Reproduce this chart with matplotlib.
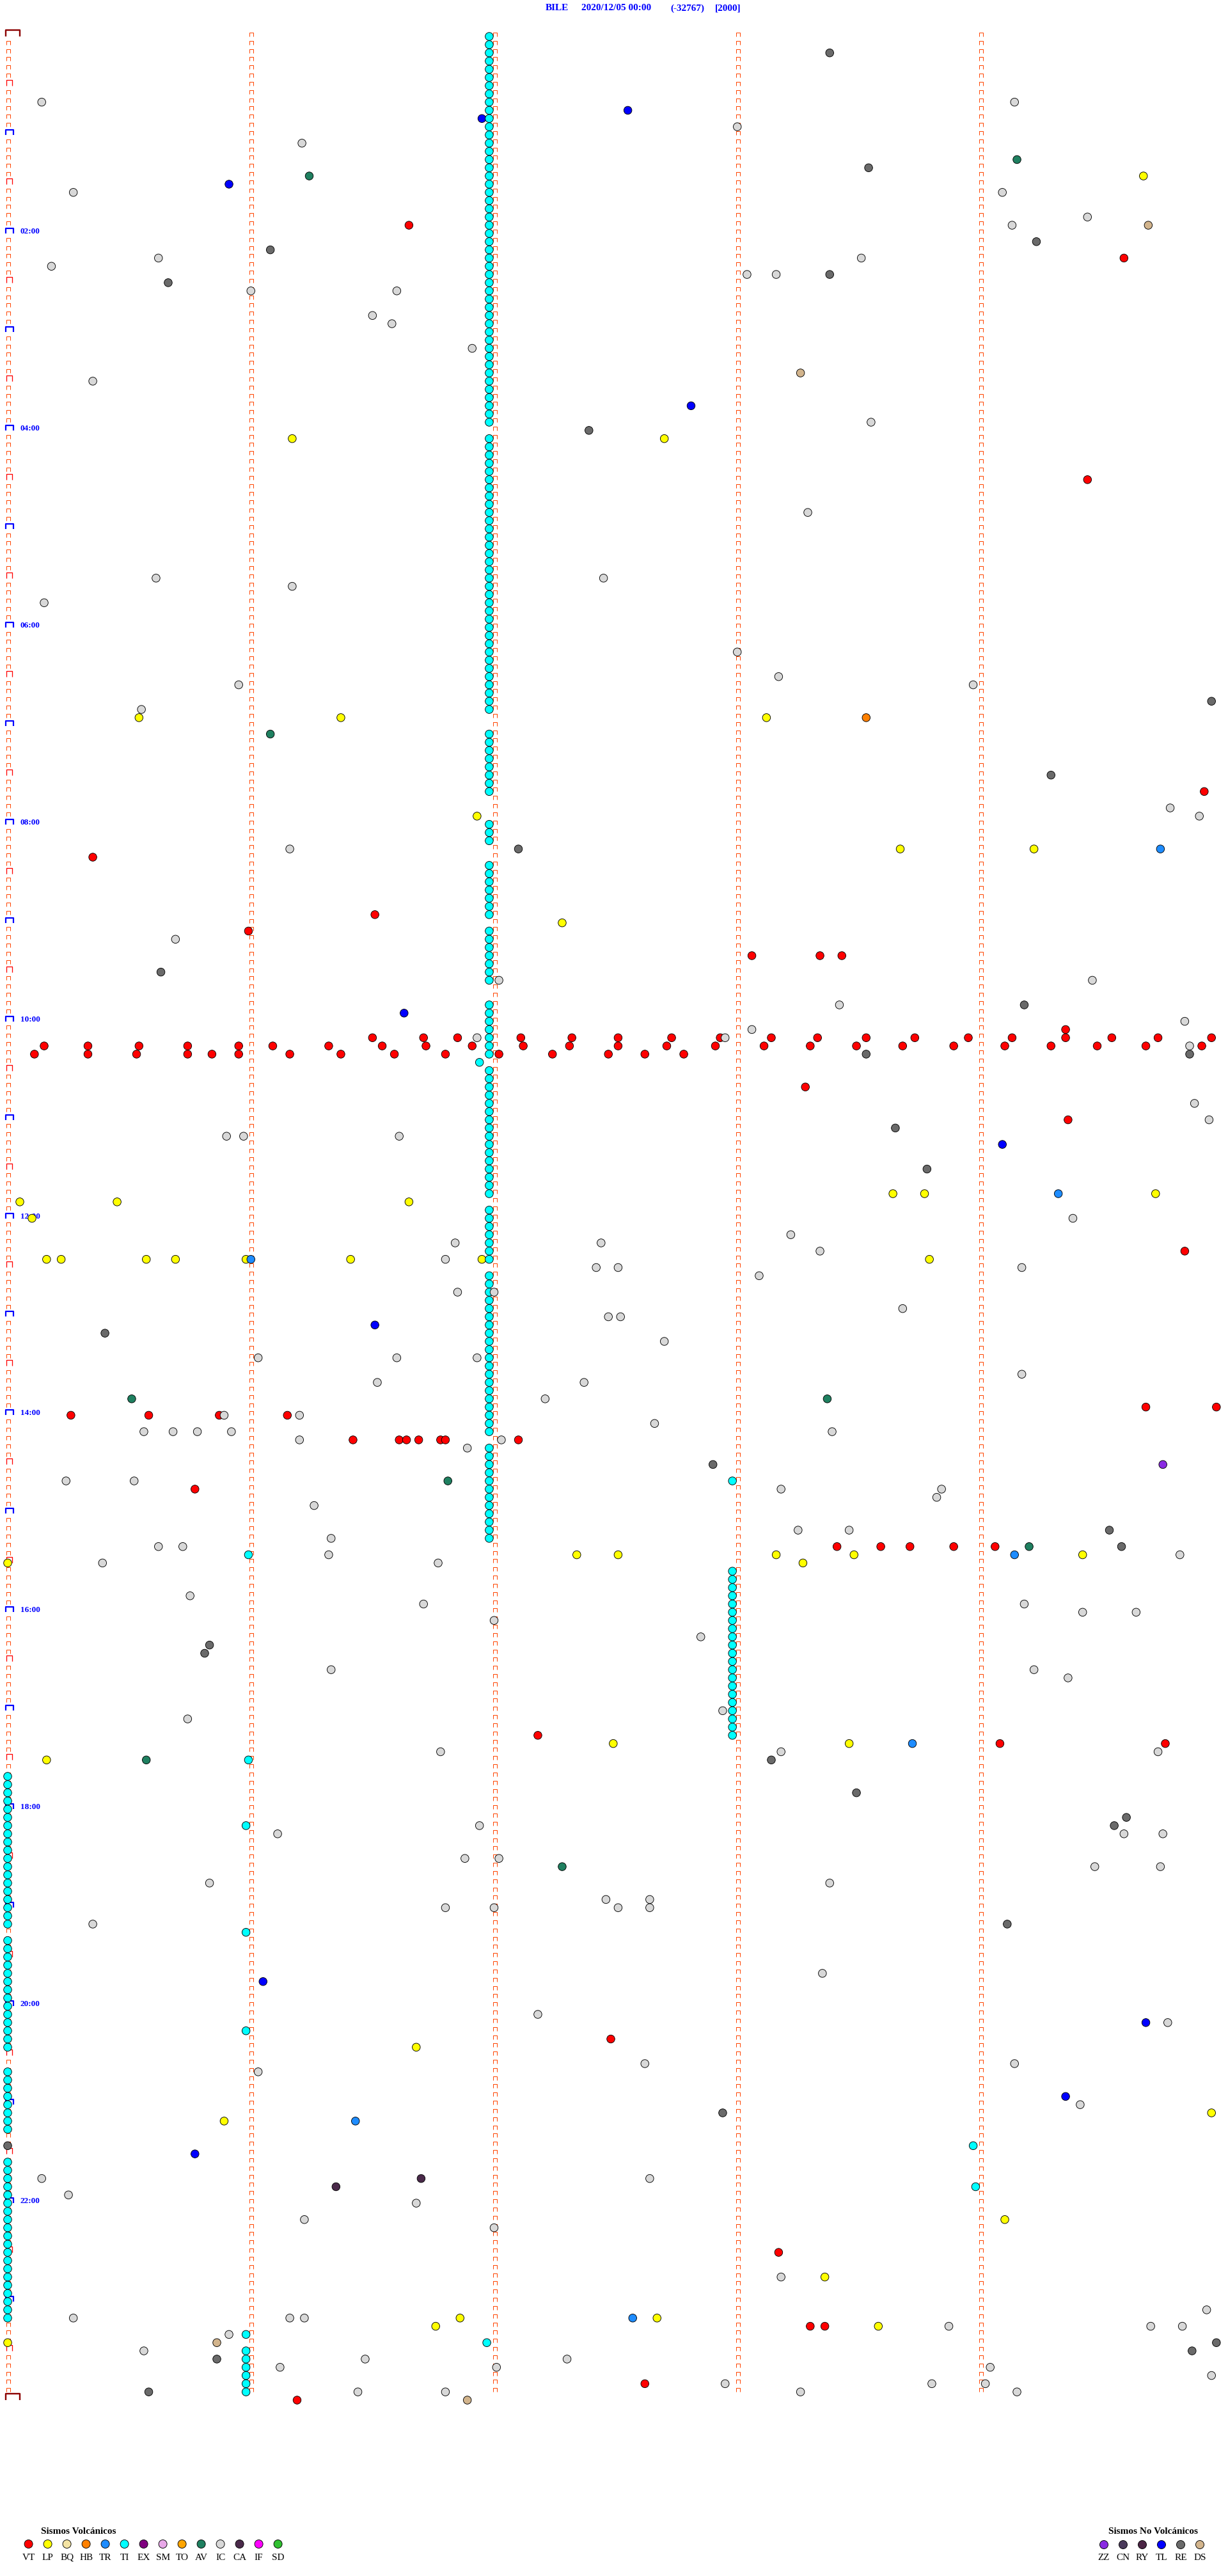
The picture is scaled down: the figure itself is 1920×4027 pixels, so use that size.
import numpy as np
import matplotlib
matplotlib.use("Agg")
import matplotlib.pyplot as plt
from matplotlib.path import Path

# ------------------------------------------------------------------ data
# event times in minutes after 2020/12/05 00:00 (each helicorder row = 5 min)
STATION = "BILE"
START = "2020/12/05 00:00"
CLIP = "(-32767)"
GAIN = "[2000]"
HOUR_LABELS = ["02:00", "04:00", "06:00", "08:00", "10:00", "12:00",
               "14:00", "16:00", "18:00", "20:00", "22:00"]

VT = [116.65, 139.59, 274.44, 464.92, 500.35, 536.51, 545.99, 563.06, 563.34, 563.43, 609.35,
      611.50, 611.71, 611.85, 612.11, 612.32, 612.51, 612.73, 612.93, 613.14, 613.33, 613.53,
      613.73, 613.95, 614.13, 614.35, 614.54, 614.73, 614.95,
      615.15, 615.33, 615.54, 615.74, 615.95, 616.09, 616.32, 616.54, 616.72, 616.91, 617.12,
      617.31, 617.51, 617.71, 617.91, 618.11, 618.30, 618.49, 618.68, 618.89, 619.10, 619.29,
      619.48, 619.68, 619.91,
      620.11, 620.33, 620.53, 620.74, 620.84, 620.95, 621.16, 621.37, 621.59, 621.80, 622.02,
      622.24, 622.47, 622.62, 622.78,
      643.28, 664.36, 744.84, 839.68, 839.97, 840.26, 840.58, 840.87, 841.15,
      856.42, 856.61, 856.64, 856.69, 856.78, 856.80, 857.10, 885.77,
      923.41, 923.59, 923.71, 923.89, 924.06,
      1037.18, 1044.08, 1044.76, 1222.48, 1353.17, 1398.30, 1398.36, 1432.62, 1441.19]

LP = [89.67, 246.17, 247.70, 415.54, 416.37, 418.12, 476.93, 498.67, 499.22, 542.28,
      708.64, 708.77, 709.72, 710.05, 710.45, 711.65, 720.10, 745.16, 745.22, 745.57,
      745.69, 745.98, 746.41, 746.95, 748.79, 927.34, 927.51, 928.16, 928.48, 929.42,
      930.00, 933.27, 1042.49, 1043.46, 1050.16, 1226.68, 1269.95, 1270.89, 1334.10,
      1368.36, 1391.86, 1392.67, 1396.76, 1398.58, 1405.00]

HB = [418.53]

TR = [499.74, 709.32, 746.00, 929.14, 1043.72, 1271.43, 1392.57]

TI = [1.98, 6.98, 11.98, 16.98, 21.98, 26.98, 31.98, 36.98, 41.98, 46.98, 51.98, 56.98,
      61.98, 66.98, 71.98, 76.98, 81.98, 86.98, 91.98, 96.98, 101.98, 106.98, 111.98, 116.98,
      121.98, 126.98, 131.98, 136.98, 141.98, 146.98, 151.98, 156.98, 161.98, 166.98, 171.98, 176.98,
      181.98, 186.98, 191.98, 196.98, 201.98, 206.98, 211.98, 216.98, 221.98, 226.98, 231.98, 236.98,
      246.98, 251.98, 256.98, 261.98, 266.98, 271.98, 276.98, 281.98, 286.98, 291.98, 296.98,
      301.98, 306.98, 311.98, 316.98, 321.98, 326.98, 331.98, 336.98, 341.98, 346.98, 351.98, 356.98,
      361.98, 366.98, 371.98, 376.98, 381.98, 386.98, 391.98, 396.98, 401.98, 406.98, 411.98,
      426.98, 431.98, 436.98, 441.98, 446.98, 451.98, 456.98, 461.98,
      481.98, 486.98, 491.98, 506.98, 511.98, 516.98, 521.98, 526.98, 531.98, 536.98,
      546.98, 551.98, 556.98, 561.98, 566.98, 571.98, 576.98, 591.98, 596.98,
      601.98, 606.98, 611.98, 616.98, 621.98, 626.94, 631.98, 636.98, 641.98, 646.98, 651.98, 656.98,
      661.98, 666.98, 671.98, 676.98, 681.98, 686.98, 691.98, 696.98, 701.98, 706.98, 716.98,
      721.98, 726.98, 731.98, 736.98, 741.98, 746.98, 756.98, 761.98, 766.98, 771.98, 776.98,
      781.98, 786.98, 791.98, 796.98, 801.98, 806.98, 811.98, 816.98, 821.98, 826.98, 831.98, 836.98,
      841.98, 846.98, 851.98, 861.98, 866.98, 871.98, 876.98, 881.98, 886.98, 891.98, 896.98,
      901.98, 906.98, 911.98, 916.98, 882.98, 925.99,
      937.98, 942.98, 947.98, 952.98, 957.98, 962.98, 967.98, 972.98, 977.98, 982.98, 987.98,
      992.98, 997.98, 1002.98, 1007.98, 1012.98, 1017.98, 1022.98, 1027.98, 1032.98, 1037.98,
      1050.99, 1090.98, 1155.98, 1215.98, 1288.97, 1313.98, 1406.97,
      1060.0, 1065.0, 1070.0, 1075.0, 1080.0, 1085.0, 1090.0, 1095.0, 1100.0, 1105.0, 1110.0,
      1115.0, 1120.0, 1125.0, 1130.0, 1135.0, 1140.0, 1145.0, 1150.0,
      1160.0, 1165.0, 1170.0, 1175.0, 1180.0, 1185.0, 1190.0, 1195.0, 1200.0, 1205.0, 1210.0,
      1215.0, 1220.0, 1225.0, 1240.0, 1245.0, 1250.0, 1255.0, 1260.0, 1265.0, 1270.0, 1275.0,
      1295.0, 1300.0, 1305.0, 1310.0, 1315.0, 1320.0, 1325.0, 1330.0, 1335.0, 1340.0, 1345.0,
      1350.0, 1355.0, 1360.0, 1365.0, 1370.0, 1375.0, 1380.0, 1385.0, 1390.0,
      1400.98, 1410.98, 1415.98, 1420.98, 1425.98, 1430.98, 1435.98]

AV = [79.15, 86.24, 426.08, 830.51, 833.37, 881.81, 924.20, 1050.57, 1117.28]

IC = [40.14, 44.14, 58.00, 66.21, 95.27, 99.09, 114.44, 119.13, 135.62, 138.51, 140.18,
      148.04, 148.16, 156.00, 156.60, 171.50, 176.58, 191.91, 210.35, 238.55, 293.29, 330.61,
      332.45, 336.17, 345.15, 378.00, 393.17, 395.95, 398.97, 410.55, 474.78, 479.90, 496.16,
      550.69, 577.02, 579.46, 593.42, 604.84, 608.06, 611.93, 612.95, 619.86, 654.88, 664.94,
      670.90, 670.97, 671.61, 724.38, 733.22, 736.84, 737.44, 743.34, 746.80, 752.42, 752.51,
      754.17, 758.09, 766.85, 767.00, 778.68, 782.47, 782.52, 797.70, 806.03, 806.60, 806.93,
      819.17, 821.52, 822.37, 832.21, 840.89, 841.20, 847.66, 850.56, 850.68, 850.78, 850.92,
      853.39, 856.20, 857.03, 861.89, 880.24, 880.52, 888.18, 888.84, 893.82, 896.26, 913.25,
      913.46, 916.33, 920.62, 920.72, 926.32, 929.82, 930.39, 931.77, 950.75, 956.71, 959.18,
      964.42, 964.64, 967.00, 977.85, 996.33, 999.22, 1004.36, 1022.94, 1025.74, 1046.78,
      1048.18, 1049.73, 1091.94, 1096.11, 1099.59, 1099.75, 1111.88, 1112.02, 1119.47, 1119.74,
      1125.83, 1128.38, 1137.46, 1137.64, 1141.80, 1142.00, 1142.51, 1142.64, 1150.35, 1183.35,
      1207.18, 1214.77, 1237.62, 1239.14, 1241.03, 1264.41, 1305.14, 1307.64, 1315.25, 1321.68,
      1331.22, 1337.00, 1368.18, 1389.93, 1390.27, 1391.16, 1391.22, 1398.87, 1399.70, 1399.83,
      1400.91, 1410.56, 1416.47, 1417.30, 1421.12, 1422.01, 1424.04, 1429.95, 1432.95, 1433.80,
      1434.02, 1436.44, 1436.80, 1438.26, 1439.15]

CA = [1306.70, 1311.35]
ZZ = [874.75]
TL = [47.55, 51.95, 90.91, 227.81, 596.63, 679.09, 786.51, 1186.05, 1214.68, 1259.35, 1290.77]
RE = [13.38, 83.54, 129.23, 131.08, 148.38, 150.66, 242.39, 409.95, 454.29, 497.10, 570.63,
      594.18, 623.53, 624.86, 668.65, 693.78, 790.40, 872.90, 914.53, 924.58, 980.83, 985.81,
      1053.14, 1073.49, 1089.60, 1094.55, 1154.11, 1267.94, 1285.00, 1409.97, 1414.87,
      1415.86, 1435.58]
DS = [119.69, 208.26, 1405.86, 1441.89]

VOLC_CODES = ["VT", "LP", "BQ", "HB", "TR", "TI", "EX", "SM", "TO", "AV", "IC", "CA", "IF", "SD"]
VOLC_COLORS = ["#ff0000", "#ffff00", "#f3e3a3", "#ff8000", "#1e8cff", "#00ffff", "#800080",
               "#e8a8e8", "#ffa500", "#1f8060", "#d8d8d8", "#4a2a4a", "#ff00ff", "#30c030"]
NONV_CODES = ["ZZ", "CN", "RY", "TL", "RE", "DS"]
NONV_COLORS = ["#8a2be2", "#4a3a5a", "#4a2444", "#0000ff", "#6a6a6a", "#d2b48c"]

EVENTS = {"VT": VT, "LP": LP, "HB": HB, "TR": TR, "TI": TI, "AV": AV, "IC": IC, "CA": CA,
          "ZZ": ZZ, "TL": TL, "RE": RE, "DS": DS}

# ------------------------------------------------------------------ layout
W, H, DPI = 1920, 4027, 100
PT = 72.0 / DPI
MIN_PER_ROW = 5
N_ROWS = 288
X0, PX_PER_MIN = 12.0, 380.25      # pixel of minute 0 and pixels per minute
Y0, ROW_PX = 57.0, 12.83           # pixel of row 0 and row height
SERIF = ["Liberation Serif", "DejaVu Serif"]
BLUE = "#0000ff"

fig = plt.figure(figsize=(W / DPI, H / DPI), dpi=DPI)
fig.patch.set_facecolor("white")
ax = fig.add_axes([0, 0, 1, 1])
ax.set_xlim(-X0 / PX_PER_MIN, (W - X0) / PX_PER_MIN)
ax.set_ylim((H - Y0) / ROW_PX, -Y0 / ROW_PX)
ax.axis("off")


def bracket(left, width, height):
    verts = [(left, 0), (left, height), (left + width, height), (left + width, 0)]
    path = Path(verts, [Path.MOVETO, Path.LINETO, Path.LINETO, Path.LINETO])
    size = 2 * max(abs(left), abs(left + width), height) * PT
    return path, size


rows = np.arange(N_ROWS)
small_path, small_ms = bracket(-2, 6, 6)
# minute tick marks in columns 1..4
for col in range(1, MIN_PER_ROW):
    ax.plot(np.full(N_ROWS, col), rows, ls="none", marker=small_path, ms=small_ms,
            mec="#ff4500", mfc="none", mew=1.0 * PT, zorder=1)
# column 0: small ticks except at half hours / hours
r0 = rows[(rows % 6) != 0]
ax.plot(np.zeros(len(r0)), r0, ls="none", marker=small_path, ms=small_ms,
        mec="#ff4500", mfc="none", mew=1.0 * PT, zorder=1)
half = rows[(rows % 12) == 6]
p, ms = bracket(-2, 9, 9)
ax.plot(np.zeros(len(half)), half, ls="none", marker=p, ms=ms, mec="#ff0000",
        mfc="none", mew=1.3 * PT, zorder=1)
hours = rows[((rows % 12) == 0) & (rows > 0)]
p, ms = bracket(-3, 12, 8)
ax.plot(np.zeros(len(hours)), hours, ls="none", marker=p, ms=ms, mec=BLUE,
        mfc="none", mew=2.2 * PT, zorder=1)
ends = np.array([0, N_ROWS])
p, ms = bracket(-3, 22, 10)
ax.plot(np.zeros(2), ends, ls="none", marker=p, ms=ms, mec="#8b0000",
        mfc="none", mew=2.4 * PT, zorder=1)

# hour labels
for lbl in HOUR_LABELS:
    r = int(lbl[:2]) * 60 / MIN_PER_ROW
    ax.text(20 / PX_PER_MIN, r, lbl, color=BLUE, fontsize=9.5, fontweight="bold",
            family=SERIF, ha="left", va="baseline", zorder=2)

# events
colmap = dict(zip(VOLC_CODES + NONV_CODES, VOLC_COLORS + NONV_COLORS))
all_t, all_c = [], []
for code, times in EVENTS.items():
    all_t += list(times)
    all_c += [colmap[code]] * len(times)
order = np.argsort(all_t, kind="stable")
t = np.asarray(all_t, float)[order]
c = np.asarray(all_c)[order]
row = np.floor(t / MIN_PER_ROW + 1e-9)
xm = t - row * MIN_PER_ROW
ax.scatter(xm, row, s=(12.5 * PT) ** 2, c=c, edgecolors="black", linewidths=0.9 * PT,
           zorder=3, clip_on=False)

# ------------------------------------------------------------------ header & legends (pixel overlay)
ov = fig.add_axes([0, 0, 1, 1], facecolor="none")
ov.set_xlim(0, W)
ov.set_ylim(H, 0)
ov.axis("off")

hdr = [(853, STATION), (909, START), (1048, CLIP), (1118, GAIN)]
for x, s in hdr:
    ov.text(x, 13, s, color=BLUE, fontsize=11, fontweight="bold", family=SERIF,
            ha="left", va="center")

ov.text(64, 3957, "Sismos Volcánicos", fontsize=11, fontweight="bold", family=SERIF,
        ha="left", va="center", color="black")
vx = 44.6 + 30.0 * np.arange(len(VOLC_CODES))
ov.scatter(vx, np.full(len(vx), 3977), s=(13 * PT) ** 2, c=VOLC_COLORS,
           edgecolors="black", linewidths=0.9 * PT)
for x, s in zip(vx, VOLC_CODES):
    ov.text(x, 3998, s, fontsize=11, family=SERIF, ha="center", va="center", color="black")

ov.text(1733, 3957, "Sismos No Volcánicos", fontsize=11, fontweight="bold", family=SERIF,
        ha="left", va="center", color="black")
nx = 1726 + 30.0 * np.arange(len(NONV_CODES))
ov.scatter(nx, np.full(len(nx), 3978), s=(13 * PT) ** 2, c=NONV_COLORS,
           edgecolors="black", linewidths=0.9 * PT)
for x, s in zip(nx, NONV_CODES):
    ov.text(x, 3998, s, fontsize=11, family=SERIF, ha="center", va="center", color="black")

fig.savefig("out.png", dpi=DPI, facecolor="white")
